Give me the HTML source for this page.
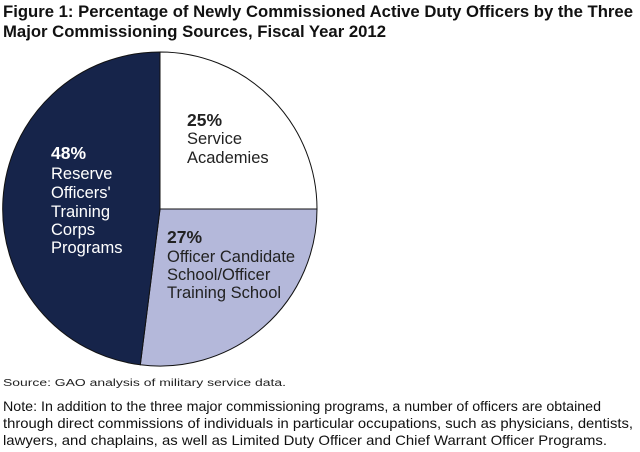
<!DOCTYPE html>
<html><head><meta charset="utf-8"><style>html,body{margin:0;padding:0;background:#fff;}svg{display:block}</style></head>
<body>
<svg width="640" height="452" viewBox="0 0 640 452" xmlns="http://www.w3.org/2000/svg" font-family="Liberation Sans, Arial, sans-serif">
<text x="3" y="17" font-size="17" font-weight="bold" fill="#111" textLength="630" lengthAdjust="spacingAndGlyphs">Figure 1: Percentage of Newly Commissioned Active Duty Officers by the Three</text>
<text x="3" y="37" font-size="17" font-weight="bold" fill="#111" textLength="383" lengthAdjust="spacingAndGlyphs">Major Commissioning Sources, Fiscal Year 2012</text>
<g stroke="#111" stroke-width="1">
<path d="M160,209 L160,52 A157,157 0 0 1 317,209 Z" fill="#ffffff"/>
<path d="M160,209 L317,209 A157,157 0 0 1 140.3,364.8 Z" fill="#b4b8da"/>
<path d="M160,209 L140.3,364.8 A157,157 0 0 1 160,52 Z" fill="#16244a"/>
</g>
<g font-size="16.5" fill="#fff">
<text x="51" y="159" font-weight="bold" font-size="17.5">48%</text>
<text x="51" y="179">Reserve</text>
<text x="51" y="198">Officers'</text>
<text x="51" y="217">Training</text>
<text x="51" y="235">Corps</text>
<text x="51" y="253">Programs</text>
</g>
<g font-size="16.5" fill="#222">
<text x="187" y="126" font-weight="bold" font-size="17.5">25%</text>
<text x="187" y="144">Service</text>
<text x="187" y="163">Academies</text>
<text x="167" y="243" font-weight="bold" font-size="17.5">27%</text>
<text x="167" y="262">Officer Candidate</text>
<text x="167" y="280">School/Officer</text>
<text x="167" y="298">Training School</text>
</g>
<text x="3" y="386" font-size="10" fill="#222" textLength="283" lengthAdjust="spacingAndGlyphs">Source: GAO analysis of military service data.</text>
<g font-size="14" fill="#111">
<text x="3" y="411" textLength="598" lengthAdjust="spacingAndGlyphs">Note: In addition to the three major commissioning programs, a number of officers are obtained</text>
<text x="3" y="428" textLength="630" lengthAdjust="spacingAndGlyphs">through direct commissions of individuals in particular occupations, such as physicians, dentists,</text>
<text x="3" y="445" textLength="604" lengthAdjust="spacingAndGlyphs">lawyers, and chaplains, as well as Limited Duty Officer and Chief Warrant Officer Programs.</text>
</g>
</svg>
</body></html>
